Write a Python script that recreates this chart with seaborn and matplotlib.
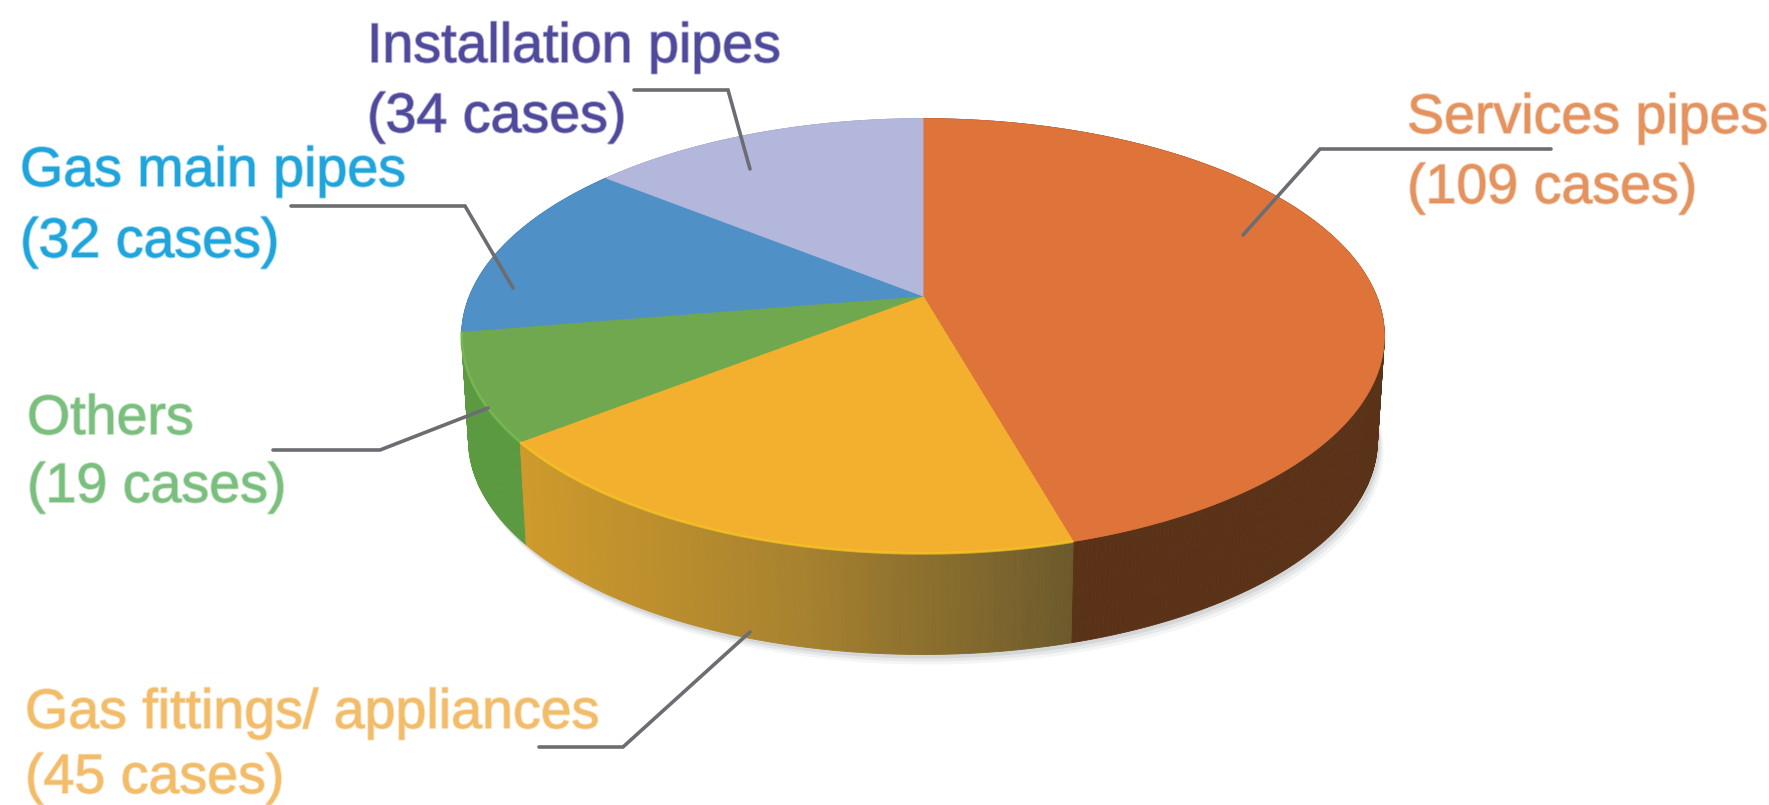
#!/usr/bin/env python

"""
This module creates the 3D looking pie chart of the gas leak locations
"""

import matplotlib.patheffects as pe
import matplotlib.pyplot as plt
import numpy as np
import seaborn as sns

# slices, clockwise from 12 o'clock
names = ["Services pipes", "Gas fittings/ appliances", "Others", "Gas main pipes", "Installation pipes"]
cases = [109, 45, 19, 32, 34]

top_colors = ["#DF743B", "#F2B02E", "#6FA84F", "#4F90C6", "#B4B7DC"]
wall_colors = [["#5A3218", "#5A3218"], ["#CE9A2B", "#A8822F", "#6C5A2C"], ["#5B9A40", "#5B9A40"],
               ["#3F6F99", "#3F6F99"], ["#8A8CAA", "#8A8CAA"]]
rim_colors = [None, "#F6C522", "#7DBB55", None, None]
text_colors = ["#E4935F", "#F2BC69", "#7ABF7E", "#1FA4DB", "#4F4A9C"]

# text: left edge, baseline of first line, baseline of second line
text_x = [1407, 25, 27, 20, 367]
text_y1 = [133, 728, 434, 186, 62]
text_y2 = [203, 793, 502, 257, 132]

# leader lines, in pixels
leader_x = [[1551, 1320, 1243], [539, 623, 750], [273, 380, 488], [291, 465, 513], [634, 728, 750]]
leader_y = [[149, 149, 235], [747, 747, 632], [450, 450, 408], [206, 206, 288], [90, 90, 169]]

CENTER = (923, 296)
RADIUS_X = 453.5
RADIUS_Y = 210
PERSPECTIVE = 0.184
DEPTH = 105
BOTTOM_SCALE = 0.985


def project(angle, scale=1.0, drop=0.0):
    """Map clockwise degrees from 12 o'clock on the disc to picture pixels."""
    u, v = np.sin(np.radians(angle)), np.cos(np.radians(angle))
    w = 1 + PERSPECTIVE * v
    return CENTER[0] + scale * RADIUS_X * u / w, CENTER[1] + drop - scale * RADIUS_Y * v / w


sns.set_theme(style="white")
plt.rcParams["font.family"] = ["Liberation Sans", "DejaVu Sans"]

fig = plt.figure(figsize=(17.69, 8.05), dpi=100)
ax = fig.add_axes([0, 0, 1, 1])
ax.set_xlim(0, 1769)
ax.set_ylim(805, 0)
ax.axis("off")

edges = np.concatenate([[0], np.cumsum(cases)]) / np.sum(cases) * 360

# soft shadow below the disc
ring = np.linspace(0, 360, 361)
for grow, alpha in zip([10, 7, 4], [0.07, 0.10, 0.14]):
    sx, sy = project(ring, BOTTOM_SCALE, DEPTH)
    ax.fill(sx + grow * 0.6, sy + grow, color="#6f7377", alpha=alpha, lw=0, zorder=1)

# side walls, back ones first so the front ones cover them
quads = []
for i, (start, end) in enumerate(zip(edges[:-1], edges[1:])):
    steps = np.arange(start, end + 0.5, 0.5)
    steps[-1] = end
    shades = sns.blend_palette(wall_colors[i], len(steps))
    x_left, x_right = project(start)[0], project(end)[0]
    for a, b in zip(steps[:-1], steps[1:]):
        x0, y0 = project(np.array([a, b]))
        x1, y1 = project(np.array([b, a]), BOTTOM_SCALE, DEPTH)
        pos = (x0.mean() - min(x_left, x_right)) / max(abs(x_right - x_left), 1)
        # the fittings wall darkens from left to right
        c = shades[int(np.clip(pos, 0, 1) * (len(shades) - 1))]
        quads.append((np.cos(np.radians((a + b) / 2)), np.r_[x0, x1], np.r_[y0, y1], c))

for _, qx, qy, c in sorted(quads, key=lambda q: -q[0]):
    ax.fill(qx, qy, color=c, lw=0.6, zorder=2)

# top faces
for i, (start, end) in enumerate(zip(edges[:-1], edges[1:])):
    steps = np.linspace(start, end, 200)
    x, y = project(steps)
    ax.fill(np.r_[CENTER[0], x], np.r_[CENTER[1], y], color=top_colors[i], lw=0.6, zorder=3)
    if rim_colors[i]:
        ax.plot(x, y, color=rim_colors[i], lw=2, alpha=0.7, zorder=4, solid_capstyle="butt")

# leader lines and labels
for i, name in enumerate(names):
    ax.plot(leader_x[i], leader_y[i], color="#6C6D72", lw=2.6, zorder=5, solid_joinstyle="miter")
    for line, y in [(name, text_y1[i]), ("(%d cases)" % cases[i], text_y2[i])]:
        txt = ax.text(text_x[i], y, line, color=text_colors[i], fontsize=40, va="baseline", ha="left", zorder=6)
        txt.set_path_effects([pe.withStroke(linewidth=1.5, foreground=text_colors[i], alpha=0.45)])

plt.savefig("out.png", dpi=100)
plt.close()
